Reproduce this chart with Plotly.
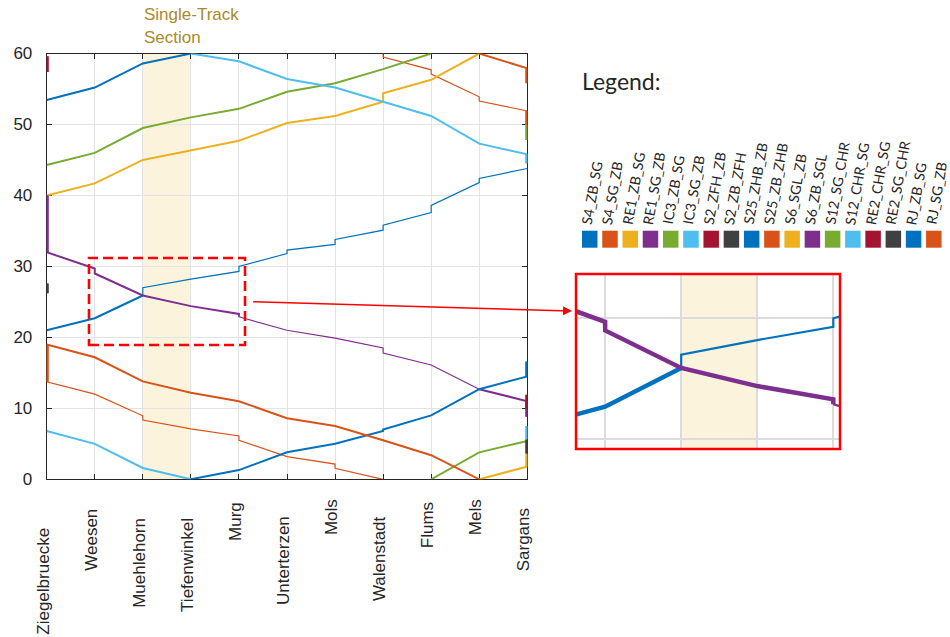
import plotly.graph_objects as go

# ---------------------------------------------------------------- data
STATIONS = ["Ziegelbruecke", "Weesen", "Muehlehorn", "Tiefenwinkel", "Murg",
            "Unterterzen", "Mols", "Walenstadt", "Flums", "Mels", "Sargans"]
MINUTE_TICKS = [0, 10, 20, 30, 40, 50, 60]

# Train paths: station index and minute; minutes past 60 run into the next hour.
S4_ZB_SG_STN = [0, 1, 2, 2, 3, 4, 4, 5, 5, 6, 6, 7, 7, 8, 8, 9, 9, 10]
S4_ZB_SG_MIN = [21.0, 22.7, 25.9, 27.0, 28.2, 29.3, 30.0, 31.8, 32.3, 33.1, 33.8,
                35.1, 35.8, 37.6, 38.6, 41.8, 42.4, 43.8]

S4_SG_ZB_STN = [10, 10, 9, 9, 8, 8, 7, 7, 6, 6, 5, 4, 4, 3, 2, 2, 1, 0, 0]
S4_SG_ZB_MIN = [49.9, 51.9, 53.3, 53.9, 57.1, 57.7, 59.5, 60.0, 61.55, 62.15, 63.2,
                65.5, 66.1, 67.1, 68.35, 68.95, 72.0, 73.75, 79.0]

RE1_ZB_SG_STN = [0, 1, 2, 3, 4, 5, 6, 7, 7, 8, 9, 10, 10]
RE1_ZB_SG_MIN = [40.0, 41.7, 45.0, 46.4, 47.7, 50.2, 51.2, 53.2, 54.4, 56.3, 60.0,
                 61.8, 63.65]

RE1_SG_ZB_STN = [10, 10, 9, 8, 7, 7, 6, 5, 4, 4, 3, 2, 1, 1, 0, 0]
RE1_SG_ZB_MIN = [8.8, 11.0, 12.7, 16.1, 17.8, 18.5, 19.9, 21.0, 22.9, 23.3, 24.4,
                 25.9, 29.0, 29.7, 32.0, 40.0]

IC3_ZB_SG_STN = [0, 1, 2, 3, 4, 5, 6, 7, 8, 9, 10]
IC3_ZB_SG_MIN = [44.3, 46.0, 49.5, 51.0, 52.2, 54.6, 55.8, 57.8, 60.0, 63.8, 65.4]

IC3_SG_ZB_STN = [10, 10, 9, 8, 7, 6, 5, 4, 3, 2, 1, 0]
IC3_SG_ZB_MIN = [44.5, 45.8, 47.3, 51.2, 53.2, 55.2, 56.4, 58.9, 60.0, 61.6, 65.0, 66.8]

S2_ZFH_ZB_STN = [0, 0]
S2_ZFH_ZB_MIN = [57.4, 59.6]
S2_ZB_ZFH_STN = [0, 0]
S2_ZB_ZFH_MIN = [26.2, 27.6]

S12_SG_CHR_STN = [10, 10]
S12_SG_CHR_MIN = [47.8, 49.9]
S12_CHR_SG_STN = [10, 10]
S12_CHR_SG_MIN = [5.6, 7.5]

RE2_SG_CHR_STN = [10, 10]
RE2_SG_CHR_MIN = [3.65, 5.6]
RE2_CHR_SG_STN = [10, 10]
RE2_CHR_SG_MIN = [10.0, 11.9]

RJ_ZB_SG_STN = [0, 1, 2, 3, 4, 5, 6, 7, 7, 8, 9, 10, 10]
RJ_ZB_SG_MIN = [53.45, 55.2, 58.6, 60.0, 61.3, 63.8, 65.0, 66.8, 67.0, 69.0, 72.7,
                74.5, 76.6]

RJ_SG_ZB_STN = [10, 10, 9, 8, 7, 6, 5, 4, 3, 2, 1, 0]
RJ_SG_ZB_MIN = [55.8, 57.9, 60.0, 63.4, 65.5, 67.5, 68.6, 71.0, 72.2, 73.8, 77.2, 79.0]

LEGEND_NAMES = ["S4_ZB_SG", "S4_SG_ZB", "RE1_ZB_SG", "RE1_SG_ZB", "IC3_ZB_SG",
                "IC3_SG_ZB", "S2_ZFH_ZB", "S2_ZB_ZFH", "S25_ZHB_ZB", "S25_ZB_ZHB",
                "S6_SGL_ZB", "S6_ZB_SGL", "S12_SG_CHR", "S12_CHR_SG", "RE2_CHR_SG",
                "RE2_SG_CHR", "RJ_ZB_SG", "RJ_SG_ZB"]

# ---------------------------------------------------------------- style
W, H = 950, 637
PALETTE = ["#0072BD", "#D95319", "#EDB120", "#7E2F8E", "#77AC30", "#4DBEEE",
           "#A2142F", "#404040"]
COLOR = {n: PALETTE[i % len(PALETTE)] for i, n in enumerate(LEGEND_NAMES)}

AXIS_COLOR = "#262626"
GRID_COLOR = "#E3E3E3"
SHADE = "#FCF3DC"
FONT = "Liberation Sans, Arial, Helvetica, sans-serif"
LEGEND_FONT = "Lato, Carlito, Calibri, sans-serif"

MAIN_W = {"thick": 2.0, "thin": 1.2}
INSET_W = {"thick": 4.5, "thin": 2.2}
EDGE_W = 4.2

# plot frames in pixels (left, right, top, bottom)
MAIN_BOX = (46.7, 527.3, 53.5, 479.3)
INSET_BOX = (576.0, 840.0, 274.0, 449.0)


def px_x(px):
    return px / W


def px_y(py):
    return 1 - py / H


# (train name, stations, minutes, [(first point, last point, weight), ...])
TRAINS = [
    ("S4_ZB_SG", S4_ZB_SG_STN, S4_ZB_SG_MIN, [(0, 2, "thick"), (2, None, "thin")]),
    ("S4_SG_ZB", S4_SG_ZB_STN, S4_SG_ZB_MIN, [(0, None, "thin")]),
    ("RE1_ZB_SG", RE1_ZB_SG_STN, RE1_ZB_SG_MIN, [(0, None, "thick")]),
    ("RE1_SG_ZB", RE1_SG_ZB_STN, RE1_SG_ZB_MIN,
     [(0, 2, "thick"), (2, 8, "thin"), (8, None, "thick")]),
    ("IC3_ZB_SG", IC3_ZB_SG_STN, IC3_ZB_SG_MIN, [(0, None, "thick")]),
    ("IC3_SG_ZB", IC3_SG_ZB_STN, IC3_SG_ZB_MIN, [(0, None, "thick")]),
    ("S2_ZFH_ZB", S2_ZFH_ZB_STN, S2_ZFH_ZB_MIN, [(0, None, "thick")]),
    ("S2_ZB_ZFH", S2_ZB_ZFH_STN, S2_ZB_ZFH_MIN, [(0, None, "thick")]),
    ("S12_SG_CHR", S12_SG_CHR_STN, S12_SG_CHR_MIN, [(0, None, "thick")]),
    ("S12_CHR_SG", S12_CHR_SG_STN, S12_CHR_SG_MIN, [(0, None, "thick")]),
    ("RE2_SG_CHR", RE2_SG_CHR_STN, RE2_SG_CHR_MIN, [(0, None, "thick")]),
    ("RE2_CHR_SG", RE2_CHR_SG_STN, RE2_CHR_SG_MIN, [(0, None, "thick")]),
    ("RJ_ZB_SG", RJ_ZB_SG_STN, RJ_ZB_SG_MIN, [(0, None, "thick")]),
    ("RJ_SG_ZB", RJ_SG_ZB_STN, RJ_SG_ZB_MIN, [(0, None, "thick")]),
]


def wrap_hour(stn, mins):
    """Fold a path onto one hour, breaking the line where it reaches minute 60."""
    xs, ys = [], []
    offset = 0.0
    prev_s = None
    for s, m in zip(stn, mins):
        if m - offset > 60 + 1e-9:
            offset += 60
            xs += [None, prev_s]
            ys += [None, 0.0]
        xs.append(s)
        ys.append(m - offset)
        prev_s = s
    return xs, ys


def edge_dwells(stn, mins):
    """Dwell segments at the two end stations (drawn wider: half is clipped)."""
    xs, ys = [], []
    for k in range(len(stn) - 1):
        if stn[k] == stn[k + 1] and stn[k] in (0, len(STATIONS) - 1):
            a, b = mins[k] % 60, mins[k + 1] % 60
            if mins[k + 1] % 60 == 0 and mins[k + 1] > 0:
                b = 60.0
            xs += [stn[k], stn[k + 1], None]
            ys += [a, b, None]
    return xs, ys


fig = go.Figure()

for name, stn, mins, parts in TRAINS:
    for i0, i1, weight in parts:
        s_part = stn[i0:(None if i1 is None else i1 + 1)]
        m_part = mins[i0:(None if i1 is None else i1 + 1)]
        xs, ys = wrap_hour(s_part, m_part)
        fig.add_trace(go.Scatter(x=xs, y=ys, mode="lines", name=name,
                                 line=dict(color=COLOR[name], width=MAIN_W[weight]),
                                 xaxis="x", yaxis="y", hoverinfo="skip",
                                 showlegend=False))
        fig.add_trace(go.Scatter(x=xs, y=ys, mode="lines", name=name,
                                 line=dict(color=COLOR[name], width=INSET_W[weight]),
                                 xaxis="x2", yaxis="y2", hoverinfo="skip",
                                 showlegend=False))
    ex, ey = edge_dwells(stn, mins)
    if ex:
        fig.add_trace(go.Scatter(x=ex, y=ey, mode="lines", name=name,
                                 line=dict(color=COLOR[name], width=EDGE_W),
                                 xaxis="x", yaxis="y", hoverinfo="skip",
                                 showlegend=False))

# ---------------------------------------------------------------- axes
ml, mr, mt, mb = MAIN_BOX
il, ir, it, ib = INSET_BOX
n_st = len(STATIONS)

fig.update_layout(
    width=W, height=H,
    margin=dict(l=0, r=0, t=0, b=0),
    paper_bgcolor="white", plot_bgcolor="white",
    showlegend=False,
    font=dict(family=FONT, color=AXIS_COLOR),
    xaxis=dict(domain=[px_x(ml), px_x(mr)], range=[0, n_st - 1],
               tickvals=list(range(n_st)), showticklabels=False,
               ticks="inside", ticklen=5, tickcolor=AXIS_COLOR, tickwidth=1,
               showline=True, linecolor=AXIS_COLOR, linewidth=1, mirror="ticks",
               showgrid=True, gridcolor=GRID_COLOR, gridwidth=1, zeroline=False,
               layer="below traces", automargin=False),
    yaxis=dict(domain=[px_y(mb), px_y(mt)], range=[0, 60],
               tickvals=MINUTE_TICKS, ticks="inside", ticklen=5,
               tickcolor=AXIS_COLOR, tickwidth=1,
               tickfont=dict(size=17, color=AXIS_COLOR, family=FONT),
               ticklabelstandoff=10,
               showline=True, linecolor=AXIS_COLOR, linewidth=1, mirror="ticks",
               showgrid=True, gridcolor=GRID_COLOR, gridwidth=1, zeroline=False,
               layer="below traces", automargin=False),
    xaxis2=dict(domain=[px_x(il), px_x(ir)], anchor="y2", range=[0.617, 4.088],
                tickvals=list(range(n_st)), showticklabels=False, ticks="",
                showline=False, showgrid=True, gridcolor="#DCDCDC", gridwidth=1.5,
                zeroline=False, automargin=False),
    yaxis2=dict(domain=[px_y(ib), px_y(it)], anchor="x2", range=[19.2, 33.66],
                tickvals=MINUTE_TICKS, showticklabels=False, ticks="",
                showline=False, showgrid=True, gridcolor="#DCDCDC", gridwidth=1.5,
                zeroline=False, automargin=False),
)

shapes = []
# single-track section Muehlehorn - Tiefenwinkel
for xr, yr in (("x", "y"), ("x2", "y2")):
    shapes.append(dict(type="rect", xref=xr, yref=yr, x0=2, x1=3, y0=0, y1=60,
                       fillcolor=SHADE, line=dict(width=0), layer="below"))
# magnified region marker
shapes.append(dict(type="rect", xref="x", yref="y", x0=0.88, x1=4.126,
                   y0=18.92, y1=31.18,
                   line=dict(color="#FF0000", width=2.6, dash="10px,5px"),
                   fillcolor="rgba(0,0,0,0)"))
# inset frame
shapes.append(dict(type="rect", xref="x2 domain", yref="y2 domain",
                   x0=0, x1=1, y0=0, y1=1,
                   line=dict(color="#FF0000", width=2.5),
                   fillcolor="rgba(0,0,0,0)"))

annotations = []
# station names, rotated
LABEL_CENTER_Y = [581, 540, 563, 565, 521, 561, 517, 559, 525, 517, 540]
for i, st in enumerate(STATIONS):
    annotations.append(dict(text=st, xref="x", yref="paper", x=i,
                            y=px_y(LABEL_CENTER_Y[i]), xshift=-4,
                            xanchor="center", yanchor="middle", textangle=-90,
                            showarrow=False,
                            font=dict(size=17, color=AXIS_COLOR, family=FONT)))

# single-track caption
for txt, cy in (("Single-Track", 14.0), ("Section", 37.0)):
    annotations.append(dict(text=txt, xref="paper", yref="paper",
                            x=px_x(142.3), y=px_y(cy), xanchor="left",
                            yanchor="middle", showarrow=False,
                            font=dict(size=17, color="#A88A2A", family=FONT)))

# connector from marker box to inset
annotations.append(dict(text="", xref="paper", yref="paper",
                        x=px_x(572), y=px_y(311), axref="pixel", ayref="pixel",
                        ax=251.7 - 572, ay=301.7 - 311, showarrow=True,
                        arrowhead=2, arrowsize=1.2, arrowwidth=1.5,
                        arrowcolor="#FF0000"))

# legend
annotations.append(dict(text="Legend:", xref="paper", yref="paper",
                        x=px_x(580), y=px_y(81), xanchor="left", yanchor="middle",
                        showarrow=False,
                        font=dict(size=23, color="#262626", family=LEGEND_FONT)))
SQ_LEFT, SQ_PITCH, SQ_W, SQ_TOP, SQ_BOT = 582.0, 20.24, 15.5, 230.7, 247.7
for k, name in enumerate(LEGEND_NAMES):
    x0 = SQ_LEFT + k * SQ_PITCH
    shapes.append(dict(type="rect", xref="paper", yref="paper",
                       x0=px_x(x0), x1=px_x(x0 + SQ_W),
                       y0=px_y(SQ_BOT), y1=px_y(SQ_TOP),
                       fillcolor=COLOR[name], line=dict(width=0)))
    annotations.append(dict(text=name, xref="paper", yref="paper",
                            x=px_x(x0 - 5), y=px_y(227), xanchor="left",
                            yanchor="bottom", textangle=-80, showarrow=False,
                            borderpad=0,
                            font=dict(size=14, color="#262626",
                                      family=LEGEND_FONT)))

fig.update_layout(shapes=shapes, annotations=annotations)

fig.write_html("out.html")
